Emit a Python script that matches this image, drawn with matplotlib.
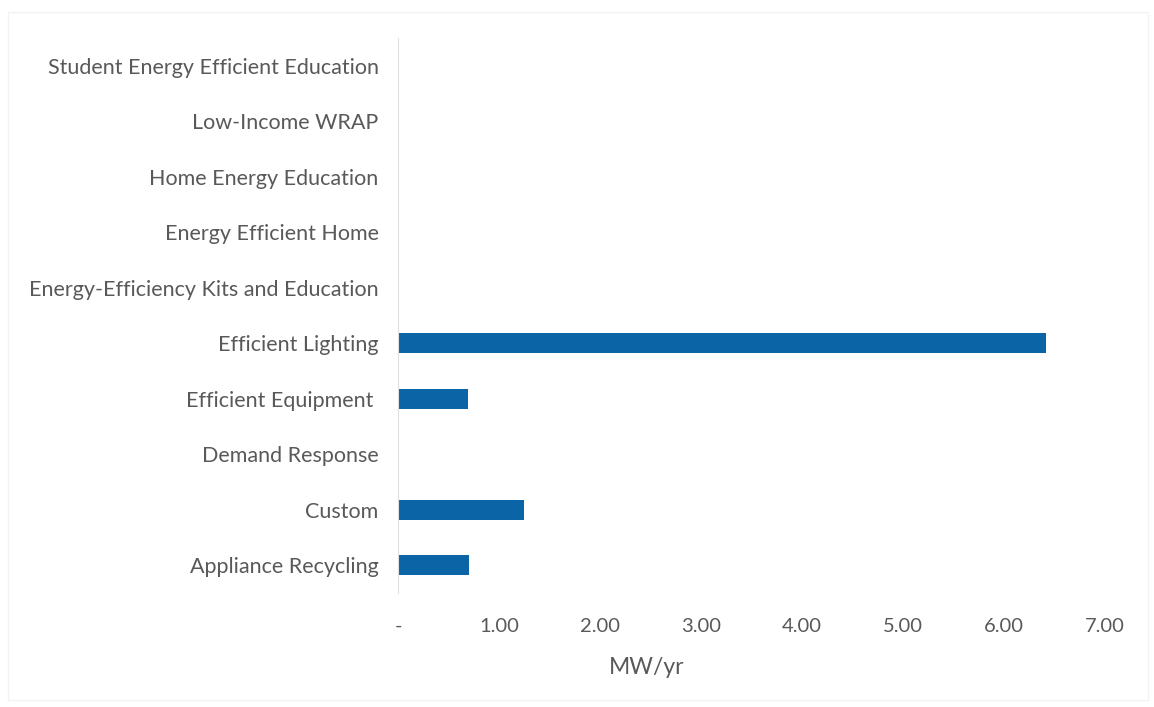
import matplotlib.pyplot as plt
from matplotlib.patches import Rectangle

# programs, listed bottom to top as drawn
programs = ['Appliance Recycling', 'Custom', 'Demand Response', 'Efficient Equipment ',
            'Efficient Lighting', 'Energy-Efficiency Kits and Education',
            'Energy Efficient Home', 'Home Energy Education', 'Low-Income WRAP',
            'Student Energy Efficient Education']
mw_per_year = [0.70, 1.25, 0.0, 0.69, 6.42, 0.0, 0.0, 0.0, 0.0, 0.0]

xticks = [0, 1, 2, 3, 4, 5, 6, 7]
xtick_labels = ['-', '1.00', '2.00', '3.00', '4.00', '5.00', '6.00', '7.00']

plt.rcParams['font.family'] = ['Lato', 'DejaVu Sans']
grey = '#595959'

fig = plt.figure(figsize=(11.54, 7.07), dpi=100)
ax = fig.add_axes([398 / 1154, 1 - 593 / 707, 707 / 1154, 555 / 707])

ax.barh(range(len(programs)), mw_per_year, height=0.36, color='#0b64a6')

ax.set_xlim(0, 7)
ax.set_ylim(-0.5, len(programs) - 0.5)
ax.set_yticks(range(len(programs)))
ax.set_yticklabels(programs)
ax.set_xticks(xticks)
ax.set_xticklabels(xtick_labels)
ax.tick_params(axis='both', length=0, colors=grey)
ax.tick_params(axis='y', labelsize=15.5, pad=14)
ax.tick_params(axis='x', labelsize=14.5, pad=18)

for side in ['top', 'right', 'bottom']:
    ax.spines[side].set_visible(False)
ax.spines['left'].set_color('#e0e0e0')

ax.set_xlabel('MW/yr', fontsize=16.5, color=grey)
ax.xaxis.set_label_coords(0.352, -0.115)

# faint chart area border
fig.patches.append(Rectangle((8 / 1154, 0.01), 1140 / 1154, 1 - 0.01 - 12 / 707,
                             transform=fig.transFigure, fill=False,
                             edgecolor='#f3f3f3', linewidth=1))

plt.savefig('out.png')
